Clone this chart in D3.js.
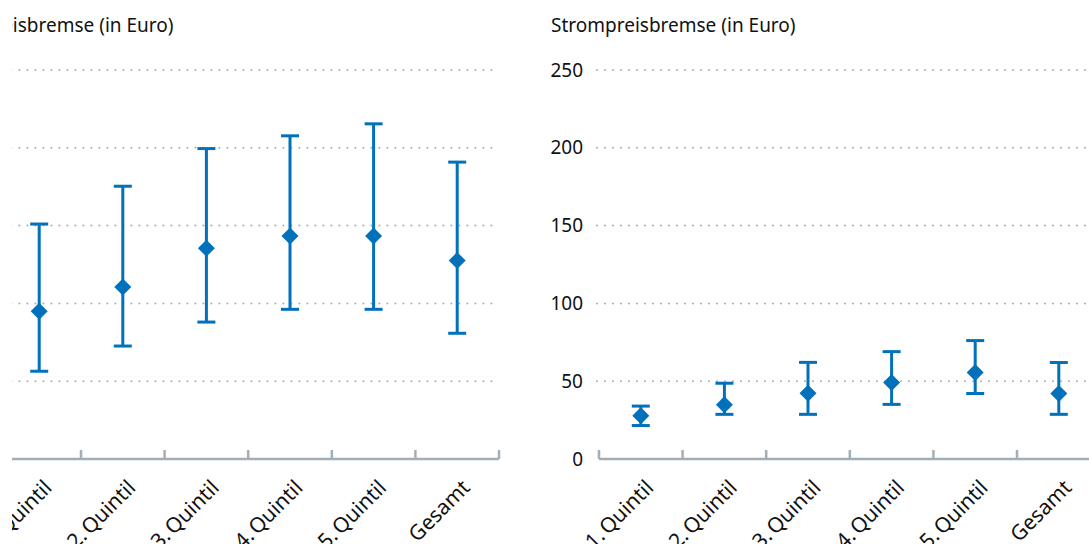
<!DOCTYPE html>
<html>
<head>
<meta charset="utf-8">
<script src="https://cdn.jsdelivr.net/npm/d3@7"></script>
<style>
  body { margin: 0; background: #fff; }
  svg { display: block; font-family: "Noto Sans", sans-serif; }
</style>
</head>
<body>
<svg id="chart" width="1089" height="544"></svg>
<script>
// data
const categories = ["1. Quintil", "2. Quintil", "3. Quintil", "4. Quintil", "5. Quintil", "Gesamt"];
const gasMid  = [95, 110.5, 135.5, 143.3, 143.3, 127.5];
const gasLow  = [56.4, 72.6, 88, 96.2, 96.2, 80.8];
const gasHigh = [151, 175.3, 199.5, 207.7, 215.4, 190.8];
const stromMid  = [27.8, 34.9, 42.2, 49.2, 55.6, 42.1];
const stromLow  = [21.5, 28.7, 28.7, 35.1, 42.1, 28.7];
const stromHigh = [34, 48.7, 62.1, 69, 76.1, 62];
const yTicks = [0, 50, 100, 150, 200, 250];

const blue = '#0071ba';
const grey = '#a3afb8';

const svg = d3.select('#chart');

const config = {
    plotWidth: 501.6,
    top: 70,
    bottom: 459,
    fontSize: 19,
    labelSize: 21
};

const y = d3.scaleLinear().domain([0, 250]).range([config.bottom, config.top]);
const x = d3.scaleBand().domain(categories).range([0, config.plotWidth]);

// left panel is cut off at the image edge
svg.append('defs').append('clipPath').attr('id', 'leftClip')
    .append('rect').attr('x', 12).attr('y', 0).attr('width', 600).attr('height', 544);

function drawPanel(parent, offsetX, title, mid, low, high) {
    const g = parent.append('g').attr('transform', `translate(${offsetX},0)`);

    g.append('text')
        .attr('x', -48).attr('y', 31.5)
        .attr('font-size', config.fontSize)
        .attr('fill', '#111')
        .text(title);

    // dotted gridlines
    g.append('g').selectAll('line')
        .data(yTicks.filter(t => t > 0))
        .join('line')
        .attr('x1', -2).attr('x2', config.plotWidth - 2)
        .attr('y1', d => y(d)).attr('y2', d => y(d))
        .attr('stroke', grey)
        .attr('stroke-width', 2)
        .attr('stroke-linecap', 'round')
        .attr('stroke-dasharray', '0,8');

    // y labels
    g.append('g').selectAll('text')
        .data(yTicks)
        .join('text')
        .attr('x', -16).attr('y', d => y(d))
        .attr('dy', '0.35em')
        .attr('text-anchor', 'end')
        .attr('font-size', config.fontSize)
        .attr('fill', '#111')
        .text(d => d);

    // x axis with ticks on band edges, pointing up
    g.append('line')
        .attr('x1', 0).attr('x2', config.plotWidth)
        .attr('y1', config.bottom).attr('y2', config.bottom)
        .attr('stroke', grey).attr('stroke-width', 2.5);
    const edges = categories.map(c => x(c)).concat([config.plotWidth]);
    g.append('g').selectAll('line')
        .data(edges)
        .join('line')
        .attr('x1', d => d).attr('x2', d => d)
        .attr('y1', config.bottom).attr('y2', config.bottom - 9)
        .attr('stroke', grey).attr('stroke-width', 2.5);

    // rotated category labels
    g.append('g').selectAll('text')
        .data(categories)
        .join('text')
        .attr('transform', d => `translate(${x(d) + x.bandwidth() / 2 + 14},${config.bottom + 30}) rotate(-45)`)
        .attr('text-anchor', 'end')
        .attr('font-size', config.labelSize)
        .attr('word-spacing', -3)
        .attr('fill', '#111')
        .text(d => d);

    // error bars
    const bars = g.append('g').selectAll('g')
        .data(categories.map((c, i) => ({c, mid: mid[i], low: low[i], high: high[i]})))
        .join('g')
        .attr('transform', d => `translate(${x(d.c) + x.bandwidth() / 2},0)`);

    bars.append('line')
        .attr('y1', d => y(d.low)).attr('y2', d => y(d.high))
        .attr('stroke', blue).attr('stroke-width', 3);
    bars.append('line')
        .attr('x1', -9).attr('x2', 9)
        .attr('y1', d => y(d.high)).attr('y2', d => y(d.high))
        .attr('stroke', blue).attr('stroke-width', 3);
    bars.append('line')
        .attr('x1', -9).attr('x2', 9)
        .attr('y1', d => y(d.low)).attr('y2', d => y(d.low))
        .attr('stroke', blue).attr('stroke-width', 3);
    bars.append('path')
        .attr('d', d3.symbol(d3.symbolSquare, 144))
        .attr('transform', d => `translate(0,${y(d.mid)}) rotate(45)`)
        .attr('fill', blue);

    return g;
}

const left = svg.append('g').attr('clip-path', 'url(#leftClip)');
drawPanel(left, -2.6, 'Gaspreisbremse (in Euro)', gasMid, gasLow, gasHigh);
drawPanel(svg, 599, 'Strompreisbremse (in Euro)', stromMid, stromLow, stromHigh);
</script>
</body>
</html>
